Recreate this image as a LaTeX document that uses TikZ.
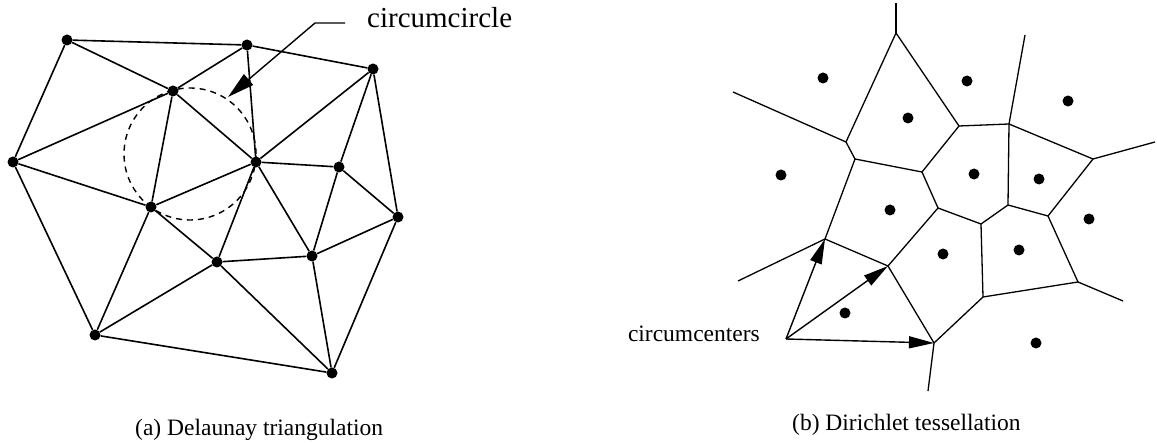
\documentclass[tikz,border=0pt]{standalone}
\usepackage{fontspec}
\setmainfont{Liberation Serif}
\usetikzlibrary{positioning,arrows.meta}
\tikzset{
  site/.style    ={circle, fill=black, inner sep=0pt, minimum size=11pt},
  edge/.style    ={line width=1.6pt, draw=black},
  cell/.style    ={line width=1.3pt, draw=black},
  circum/.style  ={line width=1.4pt, dash pattern=on 6pt off 5pt},
  pointer/.style ={-{Triangle[length=25pt,width=12pt]}, line width=1.4pt},
  lbl/.style     ={font=\fontsize{23.5pt}{28pt}\selectfont, inner sep=0pt},
  biglbl/.style  ={font=\fontsize{29pt}{34pt}\selectfont, inner sep=0pt},
}

\begin{document}
\begin{tikzpicture}[x=1pt, y=-1pt]
\useasboundingbox (0,0) rectangle (1157,443);
% (a) Delaunay triangulation
\node[site] (t1)  at (67,40)   {};
\node[site] (t2)  at (247,45)  {};
\node[site] (t3)  at (373,69)  {};
\node[site] (t4)  at (173,91)  {};
\node[site] (t5)  at (13,162)  {};
\node[site] (t6)  at (256,162) {};
\node[site] (t7)  at (339,167) {};
\node[site] (t8)  at (151,207) {};
\node[site] (t9)  at (398,217) {};
\node[site] (t10) at (217,262) {};
\node[site] (t11) at (312,256) {};
\node[site] (t12) at (95,335)  {};
\node[site] (t13) at (332,373) {};
\foreach \a/\b in {1/2,1/4,1/5,2/3,2/4,2/6,3/6,3/7,3/9,4/5,4/6,4/8,5/8,5/12,
                   6/8,6/7,6/10,6/11,7/11,7/9,8/10,8/12,9/11,9/13,10/11,10/12,
                   10/13,11/13,12/13}
  \draw[edge] (t\a) -- (t\b);
\coordinate (cc) at (190,154);
\draw[circum] (cc) circle[radius=66pt];
\node[biglbl, anchor=base west] (ccl) at (367,28) {circumcircle};
\coordinate (ccend) at (345,23);
\coordinate (ccknee) at (315,23);
\coordinate (cctip) at (228,97);
\draw[pointer, -{Triangle[length=27pt,width=14pt]}] (ccend) -- (ccknee) -- (cctip);
\node[lbl, anchor=base west] (capa) at (135,436) {(a) Delaunay triangulation};
% (b) Dirichlet tessellation
\node[site] (s1)  at (823,78)   {};
\node[site] (s2)  at (967,81)   {};
\node[site] (s3)  at (1068,101) {};
\node[site] (s4)  at (908,118)  {};
\node[site] (s5)  at (781,175)  {};
\node[site] (s6)  at (974,174)  {};
\node[site] (s7)  at (1039,179) {};
\node[site] (s8)  at (890,210)  {};
\node[site] (s9)  at (1089,219) {};
\node[site] (s10) at (943,254)  {};
\node[site] (s11) at (1019,250) {};
\node[site] (s12) at (845,313)  {};
\node[site] (s13) at (1036,343) {};
\coordinate (v1)  at (896,33);
\coordinate (v2)  at (846,142);
\coordinate (v3)  at (855,159);
\coordinate (v4)  at (959,126);
\coordinate (v5)  at (1009,124);
\coordinate (v6)  at (922,172);
\coordinate (v7)  at (1093,159);
\coordinate (v8)  at (938,208);
\coordinate (v9)  at (1008,205);
\coordinate (v10) at (1048,216);
\coordinate (v11) at (981,224);
\coordinate (v12) at (825,239);
\coordinate (v13) at (888,266);
\coordinate (v14) at (983,297);
\coordinate (v15) at (1078,282);
\coordinate (v16) at (934,343);
\foreach \a/\b in {1/2,1/4,2/3,3/6,3/12,4/5,4/6,5/7,5/9,6/8,7/10,8/11,8/13,
                   9/11,9/10,11/14,10/15,12/13,13/16,14/15,14/16}
  \draw[cell] (v\a) -- (v\b);
% unbounded edges
\coordinate (r1) at (896,3);
\coordinate (r2) at (733,92);
\coordinate (r5) at (1025,35);
\coordinate (r7) at (1155,142);
\coordinate (r12) at (738,281);
\coordinate (r15) at (1123,301);
\coordinate (r16) at (928,391);
\foreach \v in {1,2,5,7,12,15,16}
  \draw[cell] (v\v) -- (r\v);
\node[lbl, anchor=base east] (cct) at (760,342) {circumcenters};
\coordinate (ccs) at (786,339);
\foreach \v in {12,13,16}
  \draw[pointer] (ccs) -- (v\v);
\node[lbl, anchor=base west] (capb) at (792,431) {(b) Dirichlet tessellation};
\end{tikzpicture}
\end{document}
